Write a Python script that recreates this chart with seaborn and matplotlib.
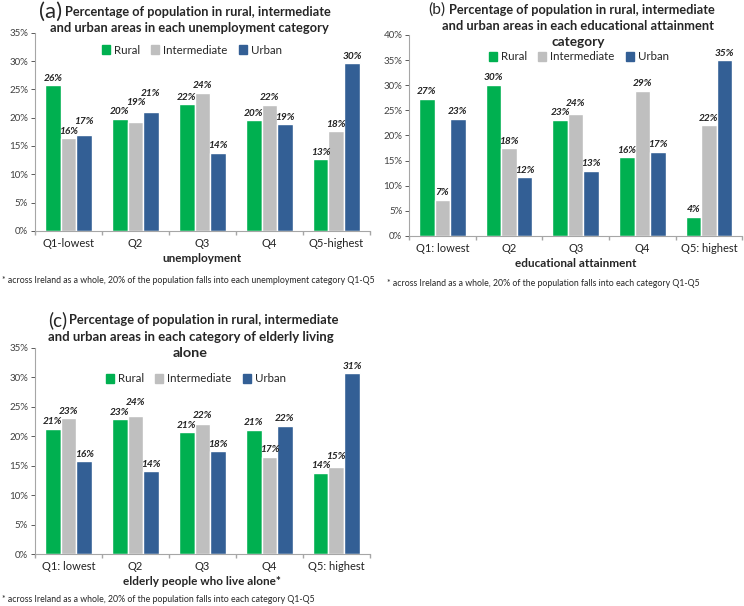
import numpy as np
import pandas as pd
import matplotlib
matplotlib.use('Agg')
import matplotlib.pyplot as plt
import seaborn as sns

# data (percent)
areas = ['Rural', 'Intermediate', 'Urban']
colors = ['#00b050', '#bfbfbf', '#335f95']

cats_a = ['Q1-lowest', 'Q2', 'Q3', 'Q4', 'Q5-highest']
rural_a = [25.7, 19.8, 22.4, 19.6, 12.7]
inter_a = [16.4, 19.3, 24.4, 22.3, 17.6]
urban_a = [17.0, 21.0, 13.8, 18.9, 29.6]
labels_a = [[26, 20, 22, 20, 13], [16, 19, 24, 22, 18], [17, 21, 14, 19, 30]]

cats_b = ['Q1: lowest', 'Q2', 'Q3', 'Q4', 'Q5: highest']
rural_b = [27.3, 30.1, 23.1, 15.7, 3.8]
inter_b = [7.2, 17.5, 24.3, 28.9, 22.0]
urban_b = [23.3, 11.7, 13.0, 16.8, 35.0]
labels_b = [[27, 30, 23, 16, 4], [7, 18, 24, 29, 22], [23, 12, 13, 17, 35]]

cats_c = ['Q1: lowest', 'Q2', 'Q3', 'Q4', 'Q5: highest']
rural_c = [21.3, 22.9, 20.7, 21.1, 13.8]
inter_c = [23.1, 23.5, 22.0, 16.5, 14.8]
urban_c = [15.8, 14.1, 17.5, 21.8, 30.7]
labels_c = [[21, 23, 21, 21, 14], [23, 24, 22, 17, 15], [16, 14, 18, 22, 31]]

foot_a = '* across Ireland as a whole, 20% of the population falls into each unemployment category Q1-Q5'
foot_bc = '* across Ireland as a whole, 20% of the population falls into each category Q1-Q5'

sns.set_theme(style='white')
plt.rcParams['font.family'] = ['Lato', 'DejaVu Sans']

W, H = 744, 606
fig = plt.figure(figsize=(W / 100, H / 100), dpi=100)
renderer = fig.canvas.get_renderer()


def long_form(cats, r, i, u):
    rows = []
    for name, vals in zip(areas, [r, i, u]):
        for c, v in zip(cats, vals):
            rows.append({'cat': c, 'area': name, 'value': v})
    return pd.DataFrame(rows)


def panel(rect, cats, r, i, u, labs, ymax, xlabel):
    ax = fig.add_axes(rect)
    df = long_form(cats, r, i, u)
    sns.barplot(data=df, x='cat', y='value', hue='area', order=cats,
                hue_order=areas, palette=colors, width=0.7, saturation=1,
                ax=ax, legend=False)

    # value labels, lifting a label when it would collide with its neighbour
    gap = ymax * 0.047
    for g in range(len(cats)):
        prev = None
        for k, cont in enumerate(ax.containers):
            bar = cont.patches[g]
            level = bar.get_height() + ymax * 0.012
            if prev is not None and abs(level - prev) < gap:
                level = prev + gap
            prev = level
            ax.text(bar.get_x() + bar.get_width() / 2, level,
                    f'{labs[k][g]}%', ha='center', va='bottom',
                    fontsize=7.3, fontweight='bold', fontstyle='italic',
                    color='#222222')

    ax.set_ylim(0, ymax)
    ax.set_xlim(-0.5, 4.5)
    ax.set_yticks(np.arange(0, ymax + 1, 5))
    ax.set_yticklabels([f'{t}%' for t in range(0, ymax + 1, 5)])
    ax.tick_params(axis='y', labelsize=7, colors='#404040', length=3,
                   direction='out', left=True, width=0.6, pad=2)
    ax.tick_params(axis='x', labelsize=8, colors='#222222', length=0,
                   pad=5)
    ax.set_xlabel(xlabel, fontsize=8.5, fontweight='bold', labelpad=3)
    ax.set_ylabel('')
    for s in ['top', 'right']:
        ax.spines[s].set_visible(False)
    for s in ['left', 'bottom']:
        ax.spines[s].set_color('#a6a6a6')
        ax.spines[s].set_linewidth(0.8)
    ax.set_xticks(np.arange(-0.5, 5, 1), minor=True)
    ax.tick_params(axis='x', which='minor', length=3, color='#a6a6a6',
                   bottom=True)
    return ax


def legend(cx, cy):
    handles = [plt.Rectangle((0, 0), 1, 1, color=c) for c in colors]
    fig.legend(handles, areas, loc='center',
               bbox_to_anchor=(cx / W, 1 - cy / H),
               ncol=3, frameon=False, fontsize=8.3, handlelength=0.7,
               handleheight=0.7, handletextpad=0.35, columnspacing=1.0)


def fit_text(x0, x1, y, s, **kw):
    # place text between pixel x0 and x1, scaling the font to that width
    t = fig.text(x0 / W, 1 - y / H, s, ha='left', va='center',
                 fontsize=10, **kw)
    w = t.get_window_extent(renderer).width
    t.set_fontsize(10 * (x1 - x0) / w)
    return t


def title(lines):
    # first entry is the panel letter (regular), the rest are bold
    for n, (x0, x1, y, s) in enumerate(lines):
        if n == 0:
            fit_text(x0, x1, y, s)
        else:
            fit_text(x0, x1, y, s, fontweight='bold')


# (a)
panel([0.047, 0.619, 0.45, 0.327], cats_a, rural_a, inter_a, urban_a,
      labels_a, 35, 'unemployment')
title([(39, 62, 12, '(a)'),
       (65, 332, 12, 'Percentage of population in rural, intermediate'),
       (50, 330, 28, 'and urban areas in each unemployment category')])
legend(192, 50)
fig.text(0.003, 0.537, foot_a, fontsize=6.3, ha='left', va='center')

# (b)
panel([0.55, 0.6106, 0.4476, 0.3317], cats_b, rural_b, inter_b, urban_b,
      labels_b, 40, 'educational attainment')
title([(428, 445, 10, '(b)'),
       (449, 715, 10, 'Percentage of population in rural, intermediate'),
       (442, 712, 26, 'and urban areas in each educational attainment'),
       (552, 605, 42, 'category')])
legend(579, 57)
fig.text(0.52, 0.533, foot_bc, fontsize=6.3, ha='left', va='center')

# (c)
panel([0.047, 0.0858, 0.45, 0.34], cats_c, rural_c, inter_c, urban_c,
      labels_c, 35, 'elderly people who live alone*')
title([(48, 67, 320, '(c)'),
       (69, 338, 320, 'Percentage of population in rural, intermediate'),
       (48, 333, 337, 'and urban areas in each category of elderly living'),
       (173, 208, 353, 'alone')])
legend(196, 379)
fig.text(0.003, 0.01, foot_bc, fontsize=6.3, ha='left', va='center')

fig.savefig('out.png', dpi=100, facecolor='white')
